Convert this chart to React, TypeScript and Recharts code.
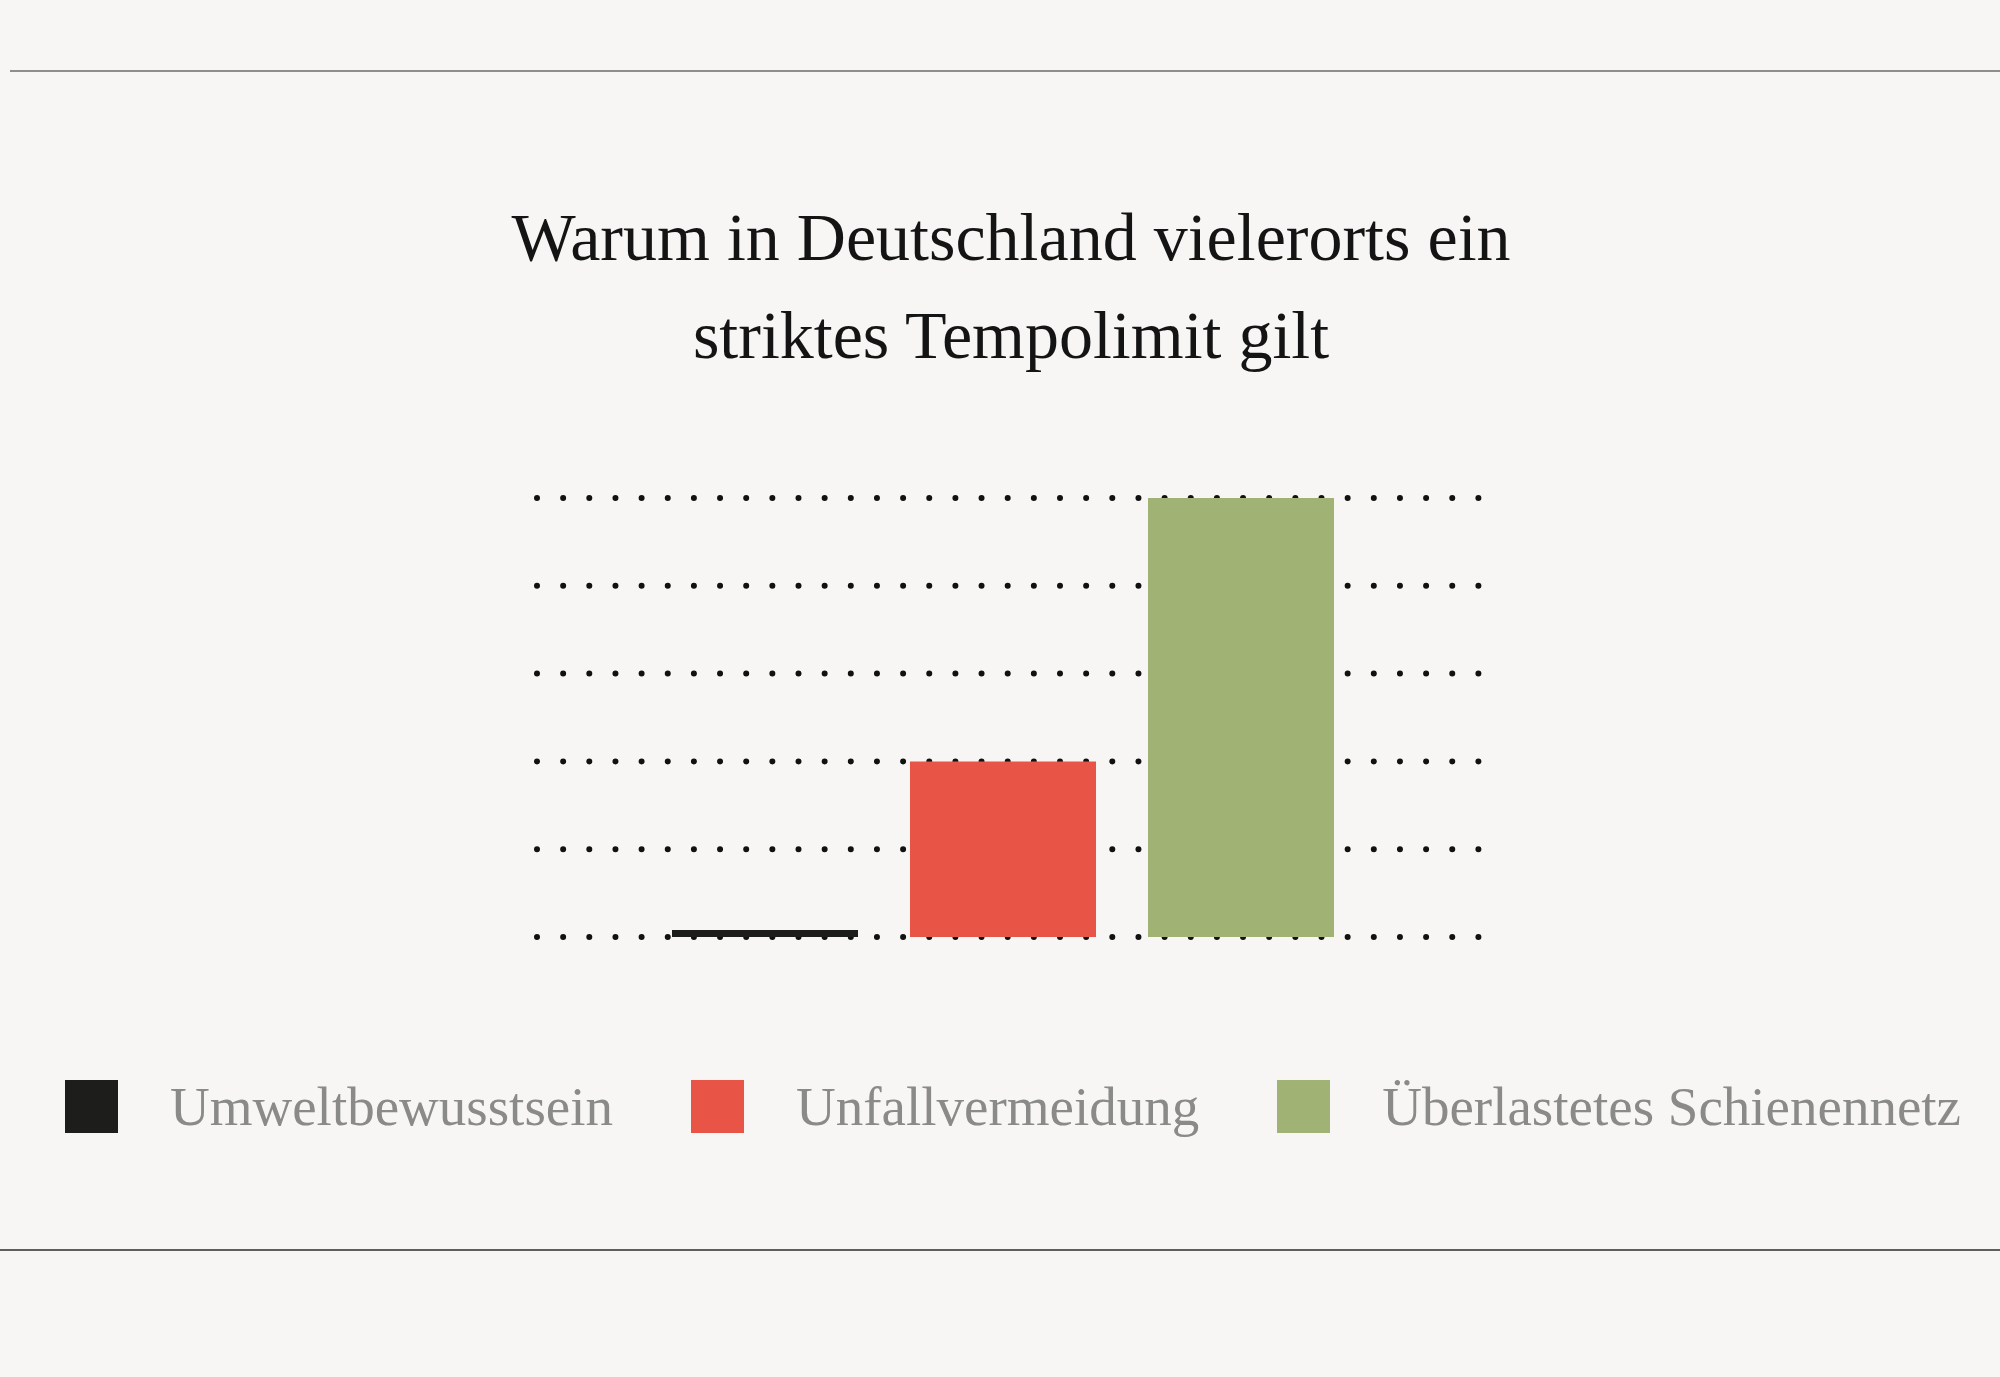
import React from 'react';
import { BarChart, Bar, XAxis, YAxis, CartesianGrid } from 'recharts';

// one category, three reasons
const categories = ['Tempolimit'];
const seriesNames = ['Umweltbewusstsein', 'Unfallvermeidung', 'Überlastetes Schienennetz'];
const seriesValues = [0.8, 20, 50];
const yTicks = [0, 10, 20, 30, 40, 50];

const COLORS = ['#1d1d1b', '#e85546', '#a0b274'];
const FONT = '"Liberation Serif", "DejaVu Serif", serif';

const data = categories.map((name) => {
  const row: Record<string, string | number> = { name };
  seriesNames.forEach((s, i) => {
    row[s] = seriesValues[i];
  });
  return row;
});

// dotted gridline: zero-length dashes with round caps
const DottedLine = (props: any) => {
  const { x1, y1, x2, y2 } = props;
  return (
    <line
      x1={x1}
      y1={y1}
      x2={x2}
      y2={y2}
      stroke='#111'
      strokeWidth={6}
      strokeLinecap='round'
      strokeDasharray='0 26.15'
    />
  );
};

export default function App() {
  return (
    <div
      style={{
        position: 'relative',
        width: 2000,
        height: 1377,
        background: '#f7f6f4',
        overflow: 'hidden',
        fontFamily: FONT,
      }}
    >
      <style>{`body{margin:0;background:#f7f6f4}`}</style>

      <div style={{ position: 'absolute', top: 70, left: 10, right: 0, height: 2, background: '#8e8e8c' }} />
      <div style={{ position: 'absolute', top: 1249, left: 0, right: 0, height: 2, background: '#5e5e5c' }} />

      <div
        style={{
          position: 'absolute',
          top: 188,
          left: 0,
          width: 2022,
          textAlign: 'center',
          fontSize: 68,
          lineHeight: '98px',
          color: '#141414',
        }}
      >
        Warum in Deutschland vielerorts ein
        <br />
        striktes Tempolimit gilt
      </div>

      <div style={{ position: 'absolute', top: 0, left: 0 }}>
        <BarChart
          width={2000}
          height={1377}
          data={data}
          margin={{ top: 498, right: 518, bottom: 440, left: 537 }}
          barSize={186}
          barGap={52}
        >
          <CartesianGrid vertical={false} horizontal={DottedLine} />
          <XAxis dataKey='name' hide padding={{ left: 0, right: 13 }} />
          <YAxis hide domain={[0, 50]} ticks={yTicks} />
          {seriesNames.map((s, i) => (
            <Bar key={s} dataKey={s} fill={COLORS[i]} isAnimationActive={false} />
          ))}
        </BarChart>
      </div>

      <div
        style={{
          position: 'absolute',
          top: 1080,
          left: 0,
          width: 2026,
          display: 'flex',
          justifyContent: 'center',
          alignItems: 'center',
          gap: 78,
        }}
      >
        {seriesNames.map((s, i) => (
          <div key={s} style={{ display: 'flex', alignItems: 'center', gap: 52 }}>
            <div style={{ width: 53, height: 53, background: COLORS[i] }} />
            <span style={{ fontSize: 55, lineHeight: '53px', color: '#8a8a88' }}>{s}</span>
          </div>
        ))}
      </div>
    </div>
  );
}
